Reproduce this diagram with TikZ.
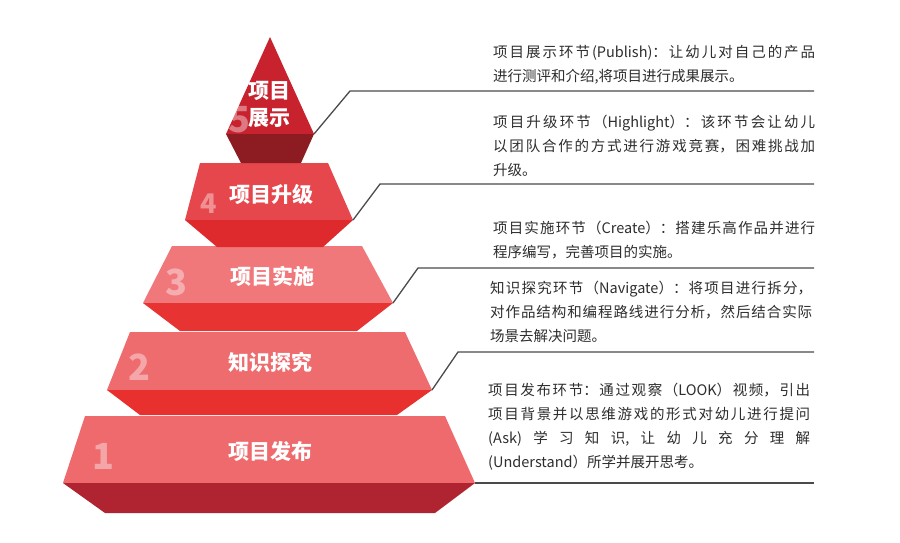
\documentclass[tikz,border=0pt]{standalone}
\usepackage{fontspec}
\setmainfont{Noto Sans CJK SC}
\XeTeXlinebreaklocale "zh"
\XeTeXlinebreakskip=0pt plus 1fil
\definecolor{tfa}{HTML}{C7222E}
\definecolor{tfb}{HTML}{8C1C22}
\definecolor{tea}{HTML}{E6474C}
\definecolor{teb}{HTML}{DE2A2C}
\definecolor{tda}{HTML}{F0777A}
\definecolor{tdb}{HTML}{E83333}
\definecolor{tca}{HTML}{EE6B6E}
\definecolor{tcb}{HTML}{E8302F}
\definecolor{tba}{HTML}{EE6A6D}
\definecolor{tbb}{HTML}{AF2430}
\definecolor{txtc}{HTML}{2E2E2E}
\definecolor{linec}{HTML}{4A4A4A}
\newcommand{\pend}{\hspace*{0pt plus 1fill}}
\tikzset{
  desc/.style={anchor=north west, inner sep=0pt, text width=322pt, align=justify,
    font=\fontsize{14.5pt}{23.8pt}\selectfont, text=txtc},
  lbl/.style={font=\fontsize{21pt}{27pt}\selectfont\bfseries, text=white, align=center, inner sep=0pt},
  num/.style={font=\fontsize{36pt}{36pt}\selectfont\bfseries, text=white, text opacity=0.4, inner sep=0pt},
  numsmall/.style={num, font=\fontsize{27pt}{27pt}\selectfont\bfseries},
  conn/.style={draw=linec, line width=1.3pt},
}
\begin{document}
\begin{tikzpicture}[x=1pt,y=-1pt]
\useasboundingbox[fill=white] (0,0) rectangle (900,542);
% tier 1
\fill[tba] (85,416) -- (445,416) -- (475,483) -- (63,483) -- cycle;
\fill[tbb] (63,483) -- (475,483) -- (435,513) -- (105,513) -- cycle;
% tier 2
\fill[tca] (130,332) -- (405,332) -- (432,390) -- (107,390) -- cycle;
\fill[tcb] (107,390) -- (432,390) -- (397,415) -- (140,415) -- cycle;
% tier 3
\fill[tda] (172,246) -- (362,246) -- (393,303) -- (143,303) -- cycle;
\fill[tdb] (143,303) -- (393,303) -- (357,331) -- (180,331) -- cycle;
% tier 4
\fill[tea] (200,163) -- (328,163) -- (353,220) -- (185,220) -- cycle;
\fill[teb] (185,220) -- (353,220) -- (323,247) -- (217,247) -- cycle;
% tier 5
\fill[tfa] (270,37) -- (314,134) -- (226,134) -- cycle;
\fill[tfb] (226,134) -- (314,134) -- (301,163) -- (241,163) -- cycle;
% numbers
\node[num] (n1) at (103,456) {1};
\node[num] (n2) at (139,367) {2};
\node[num] (n3) at (176,282) {3};
\node[numsmall] (n4) at (209,204) {4};
\node[num] (n5) at (239,120) {5};
% labels
\node[lbl] (l1) at (270,451) {项目发布};
\node[lbl] (l2) at (270,362) {知识探究};
\node[lbl] (l3) at (272,276) {项目实施};
\node[lbl] (l4) at (271,194) {项目升级};
\node[lbl] (l5) at (269,104) {项目\\展示};
% connectors
\coordinate (s5) at (314,134); \coordinate (m5) at (350,91);  \coordinate (e5) at (814,91);
\coordinate (s4) at (353,220); \coordinate (m4) at (380,184); \coordinate (e4) at (814,184);
\coordinate (s3) at (393,303); \coordinate (m3) at (418,268); \coordinate (e3) at (814,268);
\coordinate (s2) at (432,390); \coordinate (m2) at (458,352); \coordinate (e2) at (814,352);
\coordinate (s1) at (475,483); \coordinate (e1) at (814,483);
\draw[conn] (s5) -- (m5) -- (e5);
\draw[conn] (s4) -- (m4) -- (e4);
\draw[conn] (s3) -- (m3) -- (e3);
\draw[conn] (s2) -- (m2) -- (e2);
\draw[conn] (s1) -- (e1);
% descriptions
\node[desc] (d5) at (493,45) {项目展示环节(Publish)：让幼儿对自己的产品\linebreak 进行测评和介绍,将项目进行成果展示。\pend};
\node[desc] (d4) at (493,115) {项目升级环节（Highlight）：该环节会让幼儿\linebreak 以团队合作的方式进行游戏竞赛，困难挑战加\linebreak 升级。\pend};
\node[desc] (d3) at (493,221) {项目实施环节（Create）：搭建乐高作品并进行\linebreak 程序编写，完善项目的实施。\pend};
\node[desc] (d2) at (490,281) {知识探究环节（Navigate）：将项目进行拆分，\linebreak 对作品结构和编程路线进行分析，然后结合实际\linebreak 场景去解决问题。\pend};
\node[desc] (d1) at (488,383) {项目发布环节：通过观察（LOOK）视频，引出\linebreak 项目背景并以思维游戏的形式对幼儿进行提问\linebreak (Ask)学习知识,让幼儿充分理解\linebreak (Understand）所学并展开思考。\pend};
\end{tikzpicture}
\end{document}
